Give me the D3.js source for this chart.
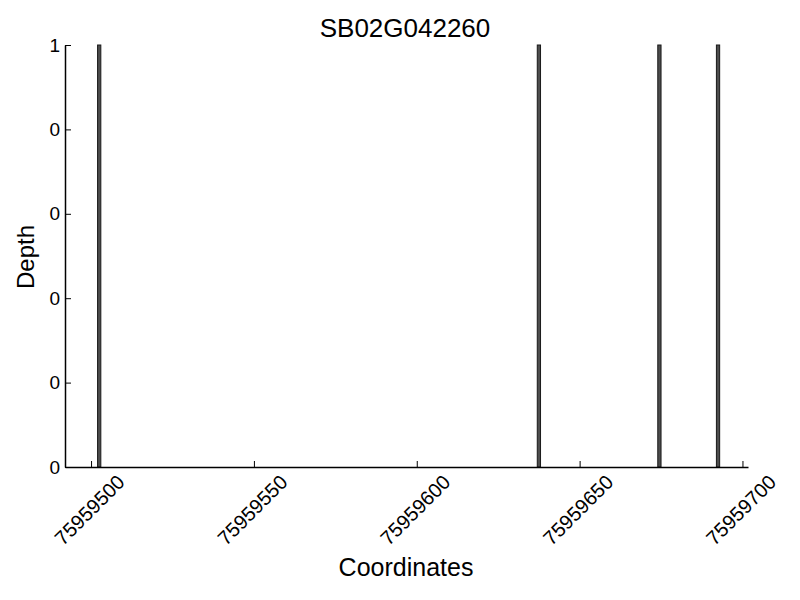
<!DOCTYPE html>
<html>
<head>
<meta charset="utf-8">
<script src="https://cdn.jsdelivr.net/npm/d3@7"></script>
<style>
  body { margin: 0; background: #fff; }
  text { font-family: "Liberation Sans", Arial, sans-serif; fill: #000; }
</style>
</head>
<body>
<div id="wrapper"></div>
<script>
// data
const positions = [75959502, 75959637, 75959674, 75959692]
const depths = [1, 1, 1, 1]
const xTickValues = [75959500, 75959550, 75959600, 75959650, 75959700]
const yTickValues = [0, 0.2, 0.4, 0.6, 0.8, 1]
const yTickLabels = ["0", "0", "0", "0", "0", "1"]
const title = "SB02G042260"

let dimensions = {
    width: 800,
    height: 600,
    margin: { top: 45, right: 52, bottom: 133, left: 65 },
}
dimensions.boundedWidth = dimensions.width - dimensions.margin.left - dimensions.margin.right
dimensions.boundedHeight = dimensions.height - dimensions.margin.top - dimensions.margin.bottom

const wrapper = d3.select("#wrapper").append("svg")
    .attr("width", dimensions.width)
    .attr("height", dimensions.height)
const bounds = wrapper.append("g")
    .attr("transform", `translate(${dimensions.margin.left},${dimensions.margin.top})`)

const xScaler = d3.scaleLinear()
    .domain([75959492, 75959701.7])
    .range([0, dimensions.boundedWidth])
const yScaler = d3.scaleLinear()
    .domain([0, 1])
    .range([dimensions.boundedHeight, 0])

// bars, one coordinate wide
bounds.append("g").selectAll("rect")
    .data(positions)
    .enter().append("rect")
    .attr("x", d => xScaler(d))
    .attr("width", d => xScaler(d + 1) - xScaler(d))
    .attr("y", (d, i) => yScaler(depths[i]))
    .attr("height", (d, i) => dimensions.boundedHeight - yScaler(depths[i]))
    .attr("fill", "#4d4d4d")
    .attr("stroke", "#1a1a1a")
    .attr("stroke-width", 1)

// x axis, ticks inward
const xAxis = bounds.append("g")
    .attr("transform", `translate(0,${dimensions.boundedHeight})`)
    .call(d3.axisBottom(xScaler).tickValues(xTickValues).tickSizeInner(-6).tickSizeOuter(0).tickFormat(""))
xAxis.select(".domain").attr("stroke", "#000").attr("stroke-width", 1.5)
xAxis.selectAll(".tick line").attr("stroke", "#000")
xAxis.selectAll(".tick text").remove()
xAxis.selectAll(".tick").append("text")
    .attr("transform", "translate(-2,43) rotate(-45)")
    .attr("text-anchor", "middle")
    .attr("dominant-baseline", "central")
    .style("font-size", "20px")
    .text(d => d)

// y axis, ticks inward
const yAxis = bounds.append("g")
    .call(d3.axisLeft(yScaler).tickValues(yTickValues).tickSizeInner(-6).tickSizeOuter(0)
        .tickFormat((d, i) => yTickLabels[i]))
yAxis.select(".domain").attr("stroke", "#000").attr("stroke-width", 1.5)
yAxis.selectAll(".tick line").attr("stroke", "#000")
yAxis.selectAll(".tick text")
    .attr("x", -5)
    .style("font-size", "19px")
    .style("font-family", "'Liberation Sans', Arial, sans-serif")

// labels
wrapper.append("text")
    .attr("x", 405)
    .attr("y", 37)
    .attr("text-anchor", "middle")
    .style("font-size", "26px")
    .text(title)
wrapper.append("text")
    .attr("x", 406)
    .attr("y", 576)
    .attr("text-anchor", "middle")
    .style("font-size", "25px")
    .text("Coordinates")
wrapper.append("text")
    .attr("transform", "translate(34,257) rotate(-90)")
    .attr("text-anchor", "middle")
    .style("font-size", "24px")
    .text("Depth")
</script>
</body>
</html>
